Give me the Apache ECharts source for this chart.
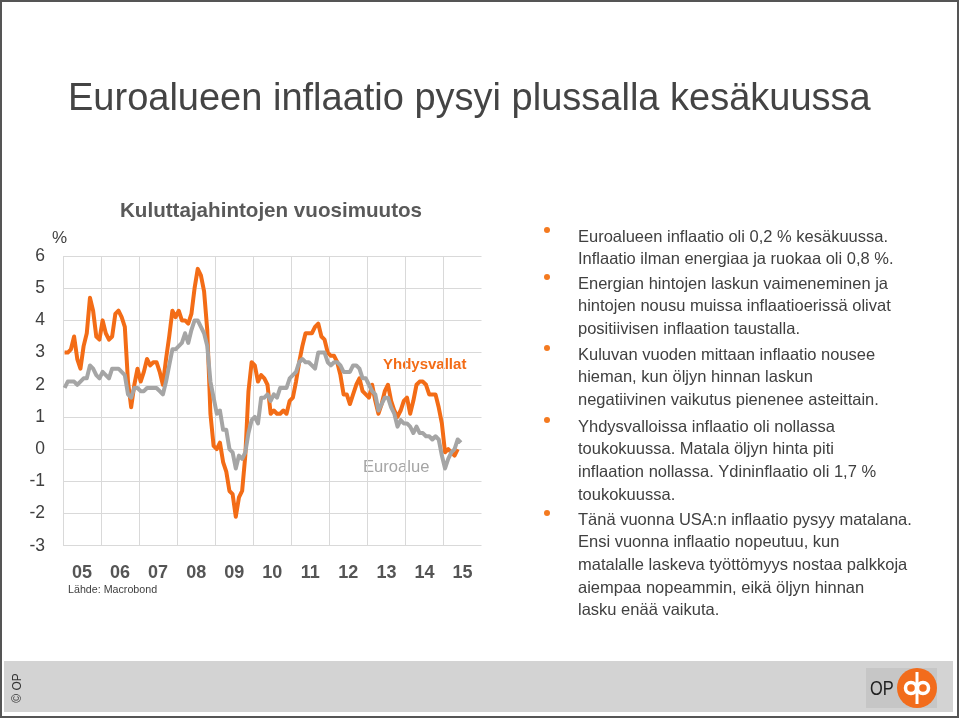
<!DOCTYPE html>
<html>
<head>
<meta charset="utf-8">
<script src="https://cdn.jsdelivr.net/npm/echarts@6/dist/echarts.min.js"></script>
<style>
html,body{margin:0;padding:0;background:#fff;}
#chart{width:960px;height:719px;}
</style>
</head>
<body>
<div id="chart"></div>
<script>
// ---- data (monthly, from Jan 2005) ----
const startYear = 2005;
const yearLabels = ['05','06','07','08','09','10','11','12','13','14','15'];
const euroArea = [
  1.9,2.1,2.1,2.1,2.0,2.1,2.2,2.2,2.6,2.5,2.3,2.2,
  2.4,2.3,2.2,2.5,2.5,2.5,2.4,2.3,1.7,1.6,1.9,1.9,
  1.8,1.8,1.9,1.9,1.9,1.9,1.8,1.7,2.1,2.6,3.1,3.1,
  3.2,3.3,3.6,3.3,3.7,4.0,4.0,3.8,3.6,3.2,2.1,1.6,
  1.1,1.2,0.6,0.6,0.0,-0.1,-0.6,-0.2,-0.3,-0.1,0.5,0.9,
  1.0,0.8,1.6,1.6,1.7,1.5,1.7,1.6,1.9,1.9,1.9,2.2,
  2.3,2.4,2.7,2.8,2.7,2.7,2.6,2.5,3.0,3.0,3.0,2.7,
  2.6,2.7,2.7,2.6,2.4,2.4,2.4,2.6,2.6,2.5,2.2,2.2,
  2.0,1.8,1.7,1.2,1.4,1.6,1.6,1.3,1.1,0.7,0.9,0.8,
  0.8,0.7,0.5,0.7,0.5,0.5,0.4,0.4,0.3,0.4,0.3,-0.2,
  -0.6,-0.3,-0.1,0.0,0.3,0.2
];
const unitedStates = [
  3.0,3.0,3.1,3.5,2.8,2.5,3.2,3.6,4.7,4.3,3.5,3.4,
  4.0,3.6,3.4,3.5,4.2,4.3,4.1,3.8,2.1,1.3,2.0,2.5,
  2.1,2.4,2.8,2.6,2.7,2.7,2.4,2.0,2.8,3.5,4.3,4.1,
  4.3,4.0,4.0,3.9,4.2,5.0,5.6,5.4,4.9,3.7,1.1,0.1,
  0.0,0.2,-0.4,-0.7,-1.3,-1.4,-2.1,-1.5,-1.3,-0.2,1.8,2.7,
  2.6,2.1,2.3,2.2,2.0,1.1,1.2,1.1,1.1,1.2,1.1,1.5,
  1.6,2.1,2.7,3.2,3.6,3.6,3.6,3.8,3.9,3.5,3.4,3.0,
  2.9,2.9,2.7,2.3,1.7,1.7,1.4,1.7,2.0,2.2,1.8,1.7,
  1.6,2.0,1.5,1.1,1.4,1.8,2.0,1.5,1.2,1.0,1.2,1.5,
  1.6,1.1,1.5,2.0,2.1,2.1,2.0,1.7,1.7,1.7,1.3,0.8,
  -0.1,0.0,-0.1,-0.2,0.0
];
const bulletGroups = [
  ['Euroalueen inflaatio oli 0,2 % kesäkuussa.', 'Inflaatio ilman energiaa ja ruokaa oli 0,8 %.'],
  ['Energian hintojen laskun vaimeneminen ja', 'hintojen nousu muissa inflaatioerissä olivat', 'positiivisen inflaation taustalla.'],
  ['Kuluvan vuoden mittaan inflaatio nousee', 'hieman, kun öljyn hinnan laskun', 'negatiivinen vaikutus pienenee asteittain.'],
  ['Yhdysvalloissa inflaatio oli nollassa', 'toukokuussa. Matala öljyn hinta piti', 'inflaation nollassa. Ydininflaatio oli 1,7 %', 'toukokuussa.'],
  ['Tänä vuonna USA:n inflaatio pysyy matalana.', 'Ensi vuonna inflaatio nopeutuu, kun', 'matalalle laskeva työttömyys nostaa palkkoja', 'aiempaa nopeammin, eikä öljyn hinnan', 'lasku enää vaikuta.']
];

const toPoints = arr => arr.map((v, i) => [startYear + (i + 0.5) / 12, v]);

const FONT = 'Liberation Sans, Arial, sans-serif';
const ORANGE = '#f36c16';
const GREY = '#a5a5a5';

// right-side bullet text
const bulletStarts = [237, 284, 355, 427, 520];
const lineGap = 22.7;
const textEls = [];
bulletGroups.forEach((g, gi) => {
  textEls.push({type:'circle', shape:{cx:547, cy:bulletStarts[gi]-7, r:3}, style:{fill:'#f47a20'}});
  g.forEach((line, li) => {
    textEls.push({type:'text', x:578, y:bulletStarts[gi] + li*lineGap,
      style:{text:line, font:'16.5px ' + FONT, fill:'#404040', textVerticalAlign:'middle'}});
  });
});

const chart = echarts.init(document.getElementById('chart'));
chart.setOption({
  animation: false,
  backgroundColor: '#fff',
  grid: {left: 63, right: 478.5, top: 256, bottom: 173.3},
  xAxis: [
    {type:'value', min:2005, max:2016, interval:1,
     axisLabel:{show:false}, axisTick:{show:false}, axisLine:{show:false},
     splitLine:{show:true, showMaxLine:false, lineStyle:{color:'#d9d9d9', width:1}}},
    {type:'category', data:yearLabels, position:'bottom', boundaryGap:true,
     axisLine:{show:false}, axisTick:{show:false}, splitLine:{show:false},
     axisLabel:{fontSize:18, fontWeight:'bold', color:'#555', margin:18, fontFamily:FONT}}
  ],
  yAxis: {type:'value', min:-3, max:6, interval:1,
    axisLine:{show:false}, axisTick:{show:false},
    axisLabel:{fontSize:17.5, color:'#404040', margin:18, fontFamily:FONT},
    splitLine:{lineStyle:{color:'#d9d9d9', width:1}}},
  series: [
    {name:'Yhdysvallat', type:'line', xAxisIndex:0, data:toPoints(unitedStates),
     showSymbol:false, lineStyle:{color:ORANGE, width:4, join:'round'}, z:2},
    {name:'Euroalue', type:'line', xAxisIndex:0, data:toPoints(euroArea),
     showSymbol:false, lineStyle:{color:GREY, width:4, join:'round'}, z:3}
  ],
  graphic: [
    {type:'rect', shape:{x:1, y:1, width:957, height:716}, style:{fill:'none', stroke:'#555', lineWidth:2}, silent:true},
    {type:'text', x:68, y:100, style:{text:'Euroalueen inflaatio pysyi plussalla kesäkuussa', font:'38px ' + FONT, fill:'#444', textVerticalAlign:'middle'}},
    {type:'text', x:271, y:211, style:{text:'Kuluttajahintojen vuosimuutos', font:'bold 20.6px ' + FONT, fill:'#595959', textAlign:'center', textVerticalAlign:'middle'}},
    {type:'text', x:52, y:238, style:{text:'%', font:'17px ' + FONT, fill:'#404040', textVerticalAlign:'middle'}},
    {type:'text', x:383, y:365, style:{text:'Yhdysvallat', font:'bold 15px ' + FONT, fill:ORANGE, textVerticalAlign:'middle'}},
    {type:'text', x:363, y:467, style:{text:'Euroalue', font:'16.6px ' + FONT, fill:GREY, textVerticalAlign:'middle'}},
    {type:'text', x:68, y:590, style:{text:'Lähde: Macrobond', font:'10.7px ' + FONT, fill:'#404040', textVerticalAlign:'middle'}},
    ...textEls,
    {type:'rect', shape:{x:4, y:661, width:949, height:51}, style:{fill:'#d3d3d3'}},
    {type:'text', x:18, y:688, rotation:Math.PI/2, style:{text:'© OP', font:'12px ' + FONT, fill:'#333', textAlign:'center', textVerticalAlign:'middle'}},
    {type:'rect', shape:{x:866, y:668, width:71, height:40}, style:{fill:'#c6c6c6'}},
    {type:'text', x:870, y:689, scaleX:0.78, style:{text:'OP', font:'21px ' + FONT, fill:'#222', textVerticalAlign:'middle'}},
    {type:'circle', shape:{cx:917, cy:688, r:20}, style:{fill:'#f26c1c'}},
    {type:'circle', shape:{cx:911, cy:688, r:5.5}, style:{fill:'none', stroke:'#fff', lineWidth:3.5}},
    {type:'circle', shape:{cx:923, cy:688, r:5.5}, style:{fill:'none', stroke:'#fff', lineWidth:3.5}},
    {type:'rect', shape:{x:915.5, y:672, width:3, height:32}, style:{fill:'#fff'}}
  ]
});
</script>
</body>
</html>
